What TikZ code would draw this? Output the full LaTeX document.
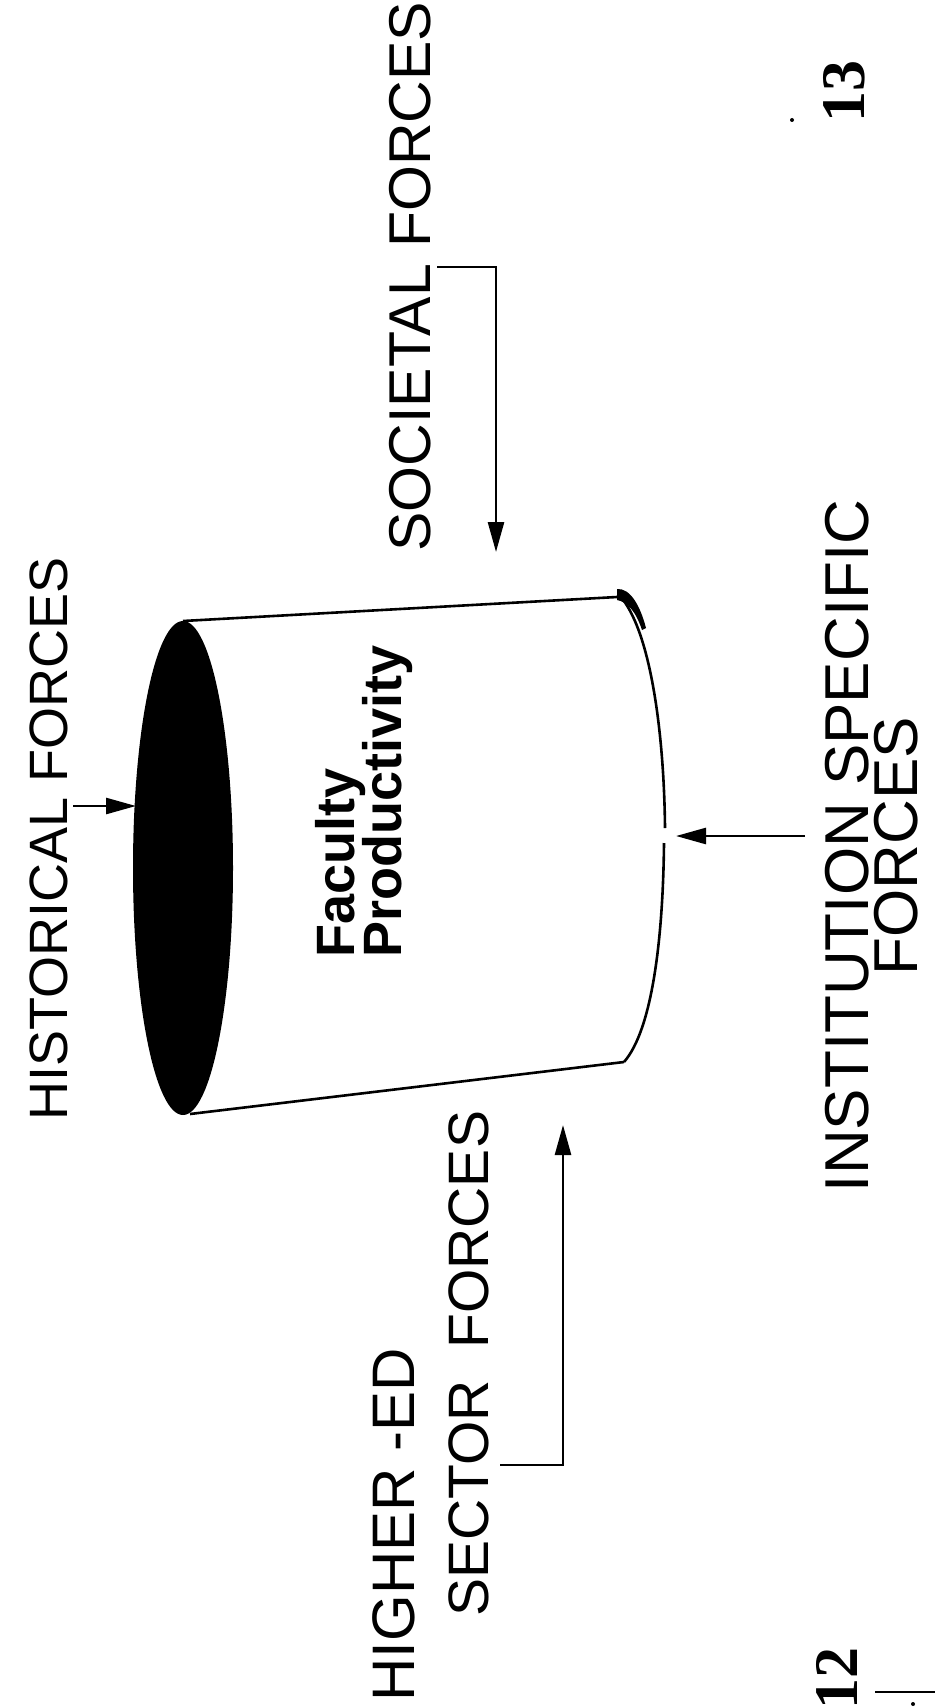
\documentclass[tikz,border=0pt]{standalone}
\usepackage{fontspec}
\setmainfont{Liberation Sans}
\newfontfamily\serifnum{Liberation Serif}
\usetikzlibrary{arrows.meta}
\begin{document}
\begin{tikzpicture}[x=0.5pt,y=-0.5pt]
\tikzset{
 lab/.style={rotate=90, inner sep=0pt},
 fp/.style={font=\fontsize{27}{24}\selectfont\bfseries, rotate=90, inner sep=0pt},
 pagenum/.style={font=\serifnum\bfseries\fontsize{31}{32}\selectfont, rotate=90, inner sep=0pt},
 ln/.style={line width=1.3pt},
 arr/.style={line width=1.3pt, -{Triangle[length=15pt,width=8pt]}},
}
\useasboundingbox (0,0) rectangle (935,1707);
% cylinder
\fill (183,868) ellipse [x radius=50, y radius=247];
\draw[ln] (183,621) -- (617,597);
\draw[ln] (190,1114) -- (624,1062);
\draw[ln] (620,596) .. controls (650,630) and (664,730) .. (665,828);
\draw[ln] (664,843) .. controls (663,940) and (652,1030) .. (624,1062);
\fill (617,589) .. controls (630,588) and (640,605) .. (646,628) -- (642,630) .. controls (636,612) and (628,602) .. (617,600) -- cycle;
% coordinates
\coordinate (hT) at (73,806);   \coordinate (hH) at (136,806);
\coordinate (sA) at (437,267);  \coordinate (sB) at (496,267);  \coordinate (sH) at (496,552);
\coordinate (iT) at (805,836);  \coordinate (iH) at (676,836);
\coordinate (eA) at (500,1465); \coordinate (eB) at (563,1465); \coordinate (eH) at (563,1125);
% arrows
\draw[arr] (hT) -- (hH);
\draw[arr] (sA) -- (sB) -- (sH);
\draw[arr] (iT) -- (iH);
\draw[arr] (eA) -- (eB) -- (eH);
% labels
\node[lab, font=\fontsize{27}{30}\selectfont, anchor=base west] (hist) at (67,1121) {HISTORICAL FORCES};
\node[lab, font=\fontsize{29.5}{30}\selectfont, anchor=base west] (soc) at (430,552) {SOCIETAL FORCES};
\node[lab, font=\fontsize{31}{30}\selectfont, anchor=base] (inst) at (868,846) {INSTITUTION SPECIFIC};
\node[lab, font=\fontsize{31}{30}\selectfont, anchor=base] (instf) at (917,846) {FORCES};
\node[lab, font=\fontsize{30}{30}\selectfont, anchor=base west] (hied) at (414,1702) {HIGHER -ED};
\node[lab, font=\fontsize{28.5}{30}\selectfont, anchor=base west] (sect) at (488,1617) {SECTOR\ \ FORCES};
\node[fp, anchor=base west] (fac) at (354,958) {Faculty};
\node[fp, anchor=base west] (prod) at (401,958) {Productivity};
\node[pagenum] (p13) at (844,92) {13};
\node[pagenum] (p12) at (837,1678) {12};
\fill (792,120) circle [radius=2];
\draw[line width=1pt] (875,1692) -- (935,1692);
\fill (913,1704) circle [radius=2];
\end{tikzpicture}
\end{document}
